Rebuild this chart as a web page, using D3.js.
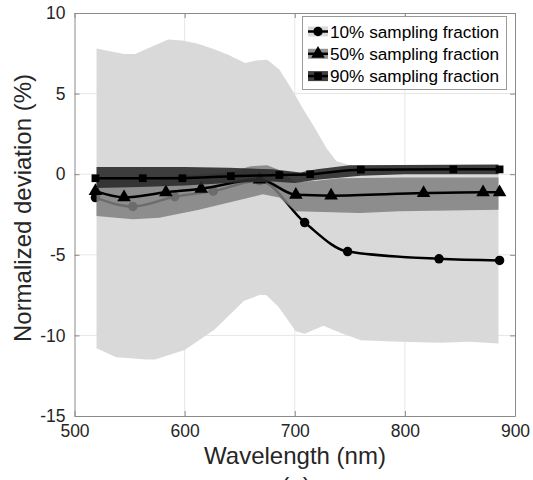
<!DOCTYPE html>
<html>
<head>
<meta charset="utf-8">
<script src="https://cdn.jsdelivr.net/npm/d3@7"></script>
<style>
  body { margin: 0; background: #fff; }
  text { font-family: "Liberation Sans", Arial, sans-serif; }
</style>
</head>
<body>
<svg width="533" height="480"></svg>
<script>
// band edges, [wavelength nm, deviation %]
const band10Upper = [[520,7.8],[545,7.45],[555,7.45],[570,7.9],[585,8.35],[598,8.3],[612,8.1],[625,7.8],[640,7.4],[655,6.9],[665,7.05],[675,7.1],[686,6.5],[698,5.2],[708,4.0],[717,3.0],[729,1.6],[738,0.8],[750,0.55],[800,0.55],[885,0.55]];
const band10Lower = [[520,-10.8],[538,-11.35],[548,-11.4],[565,-11.5],[573,-11.5],[600,-10.9],[627,-9.65],[654,-7.85],[668,-7.5],[674,-7.5],[685,-8.2],[701,-9.75],[709,-9.9],[726,-9.4],[742,-9.85],[760,-10.3],[795,-10.4],[832,-10.45],[859,-10.4],[885,-10.5]];
const band50Upper = [[520,-0.2],[560,-0.2],[600,-0.1],[640,0.1],[660,0.5],[675,0.55],[688,0.2],[700,-0.5],[720,-0.4],[740,-0.25],[800,-0.2],[885,-0.2]];
const band50Lower = [[520,-2.6],[553,-2.8],[577,-2.7],[613,-2.2],[644,-1.7],[671,-1.25],[686,-1.45],[701,-2.3],[759,-2.4],[795,-2.3],[885,-2.2]];
const band90Upper = [[520,0.45],[600,0.45],[640,0.4],[680,0.3],[705,0.1],[720,0.3],[750,0.55],[885,0.6]];
const band90Lower = [[520,-0.85],[560,-0.8],[600,-0.7],[640,-0.55],[680,-0.45],[700,-0.55],[720,-0.35],[760,-0.1],[800,0.0],[885,0.0]];

// mean lines
const line10 = [[519,-1.45],[553,-2.0],[591,-1.4],[626,-1.05],[668,-0.4],[709,-3.0],[748,-4.8],[831,-5.25],[886,-5.35]];
const line50 = [[519,-1.05],[545,-1.43],[583,-1.12],[615,-0.9],[668,-0.33],[701,-1.28],[733,-1.33],[817,-1.17],[871,-1.12],[886,-1.12]];
const line90 = [[519,-0.25],[562,-0.25],[598,-0.25],[642,-0.12],[686,-0.05],[714,0.0],[760,0.28],[844,0.3],[886,0.3]];

const legendLabels = ["10% sampling fraction", "50% sampling fraction", "90% sampling fraction"];
const xTicks = [500, 600, 700, 800, 900];
const yTicks = [-15, -10, -5, 0, 5, 10];

const svg = d3.select("svg");
const x = d3.scaleLinear().domain([500, 900]).range([74.5, 515]);
const y = d3.scaleLinear().domain([-15, 10]).range([416, 13]);

// grid
const grid = svg.append("g").attr("stroke", "#e6e6e6").attr("stroke-width", 1);
xTicks.slice(1, -1).forEach((t) => {
  grid.append("line").attr("x1", x(t)).attr("x2", x(t)).attr("y1", y(-15)).attr("y2", y(10));
});
yTicks.slice(1, -1).forEach((t) => {
  grid.append("line").attr("x1", x(500)).attr("x2", x(900)).attr("y1", y(t)).attr("y2", y(t));
});

const poly = d3.line().x((d) => x(d[0])).y((d) => y(d[1])).curve(d3.curveLinearClosed);
const mean = d3.line().x((d) => x(d[0])).y((d) => y(d[1])).curve(d3.curveMonotoneX);

const series = [
  { up: band10Upper, lo: band10Lower, line: line10, fill: "#d9d9d9", op: 1, marker: d3.symbolCircle, size: 70 },
  { up: band50Upper, lo: band50Lower, line: line50, fill: "#7f7f7f", op: 0.85, marker: d3.symbolTriangle, size: 80 },
  { up: band90Upper, lo: band90Lower, line: line90, fill: "#2b2b2b", op: 0.9, marker: d3.symbolSquare, size: 60 },
];

const plot = svg.append("g");
series.forEach((s) => {
  plot.append("path")
    .attr("d", poly(s.up.concat(s.lo.slice().reverse())))
    .attr("fill", s.fill)
    .attr("fill-opacity", s.op);
  plot.append("path")
    .attr("d", mean(s.line))
    .attr("fill", "none")
    .attr("stroke", "#000")
    .attr("stroke-width", 2.5);
  plot.selectAll(null)
    .data(s.line)
    .enter()
    .append("path")
    .attr("d", d3.symbol().type(s.marker).size(s.size))
    .attr("transform", (d) => `translate(${x(d[0])},${y(d[1])})`)
    .attr("fill", "#000");
});

// axes, ticks pointing inward, box on
const axisColor = "#8a8a8a";
const plain = (d) => String(d); // hyphen minus, as in the figure
const styleAxis = (g) => {
  g.select(".domain").attr("stroke", axisColor);
  g.selectAll(".tick line").attr("stroke", axisColor);
  g.selectAll(".tick text").attr("fill", "#262626").style("font-size", "17.5px");
};
svg.append("g")
  .attr("transform", `translate(0,${y(-15)})`)
  .call(d3.axisBottom(x).tickValues(xTicks).tickFormat(plain).tickSizeInner(-5).tickSizeOuter(0).tickPadding(9))
  .call(styleAxis);
svg.append("g")
  .attr("transform", `translate(${x(500)},0)`)
  .call(d3.axisLeft(y).tickValues(yTicks).tickFormat(plain).tickSizeInner(-5).tickSizeOuter(0).tickPadding(9))
  .call(styleAxis);
svg.append("g")
  .attr("transform", `translate(0,${y(10)})`)
  .call(d3.axisTop(x).tickValues(xTicks).tickSizeInner(-5).tickSizeOuter(0).tickFormat(""))
  .call(styleAxis);
svg.append("g")
  .attr("transform", `translate(${x(900)},0)`)
  .call(d3.axisRight(y).tickValues(yTicks).tickSizeInner(-5).tickSizeOuter(0).tickFormat(""))
  .call(styleAxis);

// labels
svg.append("text")
  .attr("x", 295).attr("y", 464)
  .attr("text-anchor", "middle")
  .style("font-size", "24px").attr("fill", "#262626")
  .text("Wavelength (nm)");
svg.append("text")
  .attr("transform", "translate(31,208) rotate(-90)")
  .attr("text-anchor", "middle")
  .style("font-size", "24px").attr("fill", "#262626")
  .text("Normalized deviation (%)");
// panel tag, cut by the bottom edge as in the source figure
svg.append("text")
  .attr("x", 296).attr("y", 494)
  .attr("text-anchor", "middle")
  .style("font-size", "24px").attr("fill", "#262626")
  .text("(a)");

// legend
const legend = svg.append("g");
legend.append("rect")
  .attr("x", 302.5).attr("y", 16.5).attr("width", 204).attr("height", 73)
  .attr("fill", "#fff").attr("stroke", "#9a9a9a");
series.forEach((s, i) => {
  const cy = 31.5 + i * 22.3;
  legend.append("rect")
    .attr("x", 308).attr("y", cy - 5).attr("width", 20).attr("height", 10)
    .attr("fill", s.fill).attr("fill-opacity", s.op);
  legend.append("line")
    .attr("x1", 308).attr("x2", 328).attr("y1", cy).attr("y2", cy)
    .attr("stroke", "#000").attr("stroke-width", 2.5);
  legend.append("path")
    .attr("d", d3.symbol().type(s.marker).size(s.size))
    .attr("transform", `translate(318,${cy})`)
    .attr("fill", "#000");
  legend.append("text")
    .attr("x", 330).attr("y", cy + 6.2)
    .style("font-size", "17.2px").attr("fill", "#000")
    .text(legendLabels[i]);
});
</script>
</body>
</html>
